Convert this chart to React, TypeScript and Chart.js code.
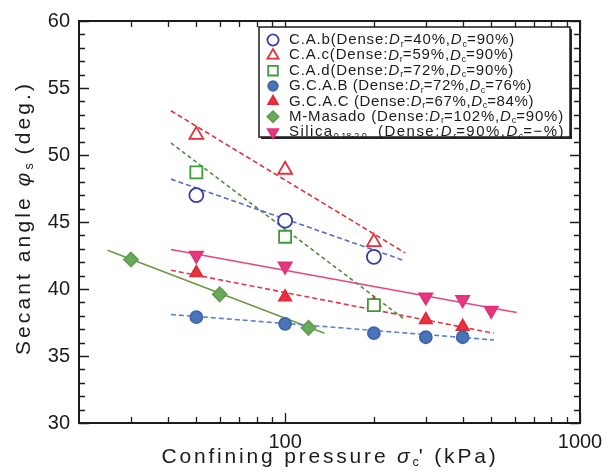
import React, { useEffect, useRef } from "react";
import { Chart, registerables } from "chart.js";
import { drawPoint } from "chart.js/helpers";

Chart.register(...registerables);

// Measured secant angles (deg.) against confining pressure (kPa)
const cabP = [50, 100, 200];
const cabPhi = [47.0, 45.1, 42.4];
const cacP = [50, 100, 200];
const cacPhi = [51.5, 48.9, 43.5];
const cadP = [50, 100, 200];
const cadPhi = [48.7, 43.9, 38.8];
const gcabP = [50, 100, 200, 300, 400];
const gcabPhi = [37.9, 37.4, 36.7, 36.4, 36.4];
const gcacP = [50, 100, 200, 300, 400];
const gcacPhi = [41.2, 39.4, 38.9, 37.7, 37.2];
const masadoP = [30, 60, 120];
const masadoPhi = [42.2, 39.6, 37.1];
const silicaP = [50, 100, 300, 400, 500];
const silicaPhi = [42.5, 41.7, 39.4, 39.2, 38.4];

// Fitted trend lines (end points)
const cabFitP = [41, 255];
const cabFitPhi = [48.2, 42.1];
const cacFitP = [41, 255];
const cacFitPhi = [53.3, 42.7];
const cadFitP = [41, 255];
const cadFitPhi = [50.9, 37.7];
const gcabFitP = [41, 510];
const gcabFitPhi = [38.1, 36.2];
const gcacFitP = [41, 510];
const gcacFitPhi = [41.4, 36.7];
const masadoFitP = [25, 136];
const masadoFitPhi = [42.9, 36.7];
const silicaFitP = [41, 610];
const silicaFitPhi = [42.95, 38.25];

const xTickLabels = [100, 1000];
const yTickLabels = [30, 35, 40, 45, 50, 55, 60];

const FONT = "'Liberation Sans', Arial, Helvetica, sans-serif";
const INK = "#1c1c1c";

type Seg = { t: string; it?: boolean; sub?: boolean };

const legendRows: Seg[][] = [
  [{ t: "C.A.b(Dense:" }, { t: "D", it: true }, { t: "r", sub: true }, { t: "=40%," }, { t: "D", it: true }, { t: "c", sub: true }, { t: "=90%)" }],
  [{ t: "C.A.c(Dense:" }, { t: "D", it: true }, { t: "r", sub: true }, { t: "=59%," }, { t: "D", it: true }, { t: "c", sub: true }, { t: "=90%)" }],
  [{ t: "C.A.d(Dense:" }, { t: "D", it: true }, { t: "r", sub: true }, { t: "=72%," }, { t: "D", it: true }, { t: "c", sub: true }, { t: "=90%)" }],
  [{ t: "G.C.A.B (Dense:" }, { t: "D", it: true }, { t: "r", sub: true }, { t: "=72%," }, { t: "D", it: true }, { t: "c", sub: true }, { t: "=76%)" }],
  [{ t: "G.C.A.C (Dense:" }, { t: "D", it: true }, { t: "r", sub: true }, { t: "=67%," }, { t: "D", it: true }, { t: "c", sub: true }, { t: "=84%)" }],
  [{ t: "M-Masado (Dense:" }, { t: "D", it: true }, { t: "r", sub: true }, { t: "=102%," }, { t: "D", it: true }, { t: "c", sub: true }, { t: "=90%)" }],
  [{ t: "Silica" }, { t: "0.18-2.0", sub: true }, { t: "  (Dense:" }, { t: "D", it: true }, { t: "r", sub: true }, { t: "=90%," }, { t: "D", it: true }, { t: "c", sub: true }, { t: "=\u2212%)" }],
];
const legendRowEnds = [515, 514, 514, 532, 534, 564, 565];

type Series = {
  p: number[];
  phi: number[];
  fitP: number[];
  fitPhi: number[];
  style: string;
  rotation: number;
  radius: number;
  stroke: string;
  fill: string;
  lineColor: string;
  dash: number[];
};

const series: Series[] = [
  { p: cabP, phi: cabPhi, fitP: cabFitP, fitPhi: cabFitPhi, style: "circle", rotation: 0, radius: 7, stroke: "#3a3f9e", fill: "#ffffff", lineColor: "#5a6cc4", dash: [5, 3] },
  { p: cacP, phi: cacPhi, fitP: cacFitP, fitPhi: cacFitPhi, style: "triangle", rotation: 0, radius: 8, stroke: "#e5303c", fill: "#ffffff", lineColor: "#e5303c", dash: [5, 3] },
  { p: cadP, phi: cadPhi, fitP: cadFitP, fitPhi: cadFitPhi, style: "rect", rotation: 0, radius: 8.5, stroke: "#3f9a3c", fill: "#ffffff", lineColor: "#4f8c3e", dash: [4, 3] },
  { p: gcabP, phi: gcabPhi, fitP: gcabFitP, fitPhi: gcabFitPhi, style: "circle", rotation: 0, radius: 6, stroke: "#3f66ad", fill: "#4a73b9", lineColor: "#5b82cc", dash: [5, 3] },
  { p: gcacP, phi: gcacPhi, fitP: gcacFitP, fitPhi: gcacFitPhi, style: "triangle", rotation: 0, radius: 7, stroke: "#e42a36", fill: "#e8323e", lineColor: "#e23848", dash: [5, 3] },
  { p: masadoP, phi: masadoPhi, fitP: masadoFitP, fitPhi: masadoFitPhi, style: "rectRot", rotation: 0, radius: 7, stroke: "#5f9f4f", fill: "#6aab5a", lineColor: "#6b9a42", dash: [] },
  { p: silicaP, phi: silicaPhi, fitP: silicaFitP, fitPhi: silicaFitPhi, style: "triangle", rotation: 180, radius: 7.5, stroke: "#e2307a", fill: "#e6387f", lineColor: "#e8457f", dash: [] },
];

function segFont(s: Seg, size: number) {
  const sz = s.sub ? size * 0.6 : size;
  return `${s.it ? "italic " : ""}${sz}px ${FONT}`;
}

// Draws mixed italic / subscript text, spread to a given width
function drawRich(ctx: CanvasRenderingContext2D, segs: Seg[], x: number, y: number, size: number, width: number | null, align: "left" | "center") {
  ctx.save();
  ctx.letterSpacing = "0px";
  let natural = 0;
  let count = 0;
  const widths = segs.map((s) => {
    ctx.font = segFont(s, size);
    const w = ctx.measureText(s.t).width;
    natural += w;
    if (!s.sub) count += s.t.length;
    return w;
  });
  const spacing = width == null ? 0 : Math.max(0, (width - natural) / count);
  const total = natural + spacing * count;
  let cx = align === "center" ? x - total / 2 : x;
  ctx.textBaseline = "middle";
  ctx.textAlign = "left";
  ctx.fillStyle = INK;
  segs.forEach((s, i) => {
    ctx.font = segFont(s, size);
    const sp = s.sub ? 0 : spacing;
    ctx.letterSpacing = `${sp}px`;
    ctx.fillText(s.t, cx, s.sub ? y + size * 0.28 : y);
    cx += widths[i] + sp * s.t.length;
  });
  ctx.restore();
}

const framePlugin = {
  id: "frameAndNotes",
  afterDraw(chart: any) {
    const ctx: CanvasRenderingContext2D = chart.ctx;
    const { left, right, top, bottom } = chart.chartArea;
    const xs = chart.scales.x;
    const ys = chart.scales.y;
    ctx.save();
    ctx.strokeStyle = INK;

    // inward tick marks on all four sides
    ctx.lineWidth = 1.3;
    ctx.beginPath();
    for (let v = 30; v <= 60; v++) {
      const py = Math.round(ys.getPixelForValue(v)) + 0.5;
      const len = v % 5 === 0 ? 10 : 6;
      ctx.moveTo(left, py);
      ctx.lineTo(left + len, py);
      ctx.moveTo(right, py);
      ctx.lineTo(right - len, py);
    }
    const xVals: number[] = [];
    for (let v = 30; v <= 90; v += 10) xVals.push(v);
    for (let v = 100; v <= 1000; v += 100) xVals.push(v);
    xVals.forEach((v) => {
      const px = Math.round(xs.getPixelForValue(v)) + 0.5;
      const len = v === 100 || v === 1000 ? 10 : 6;
      ctx.moveTo(px, bottom);
      ctx.lineTo(px, bottom - len);
      ctx.moveTo(px, top);
      ctx.lineTo(px, top + len);
    });
    ctx.stroke();

    // plot frame
    ctx.lineWidth = 2;
    ctx.strokeRect(left, top, right - left, bottom - top);

    // axis titles
    drawRich(ctx, [{ t: "Confining pressure " }, { t: "\u03c3", it: true }, { t: "c", sub: true }, { t: "' (kPa)" }], 330, 457, 21, 337, "center");
    ctx.save();
    ctx.translate(24, 218);
    ctx.rotate(-Math.PI / 2);
    drawRich(ctx, [{ t: "Secant angle " }, { t: "\u03c6", it: true }, { t: "s", sub: true }, { t: " (deg.)" }], 0, 0, 21, 274, "center");
    ctx.restore();

    // legend box
    const bx = 259, by = 27, bw = 311, bh = 110;
    ctx.fillStyle = "#ffffff";
    ctx.fillRect(bx, by, bw, bh);
    ctx.fillStyle = "#2a2a2a";
    ctx.fillRect(bx + 2, by + bh, bw, 2);
    ctx.fillRect(bx + bw, by + 2, 2, bh);
    ctx.lineWidth = 1.5;
    ctx.strokeStyle = INK;
    ctx.strokeRect(bx, by, bw, bh);

    legendRows.forEach((row, i) => {
      const ry = 40 + i * 15.35;
      const s = series[i];
      ctx.save();
      ctx.fillStyle = s.fill;
      ctx.strokeStyle = s.stroke;
      ctx.lineWidth = 1.8;
      drawPoint(ctx, { pointStyle: s.style, radius: s.radius * 0.8, rotation: s.rotation, borderWidth: 1.8 } as any, 273, ry);
      ctx.restore();
      drawRich(ctx, row, 289, ry, 15, legendRowEnds[i] - 289, "left");
    });
    ctx.restore();
  },
};

export default function App() {
  const ref = useRef<HTMLCanvasElement>(null);

  useEffect(() => {
    if (!ref.current) return;
    const datasets: any[] = [];
    series.forEach((s) => {
      datasets.push({
        data: s.p.map((p, i) => ({ x: p, y: s.phi[i] })),
        showLine: false,
        pointStyle: s.style,
        pointRotation: s.rotation,
        pointRadius: s.radius,
        pointBorderWidth: 1.8,
        pointBorderColor: s.stroke,
        pointBackgroundColor: s.fill,
        order: 0,
      });
    });
    series.forEach((s) => {
      datasets.push({
        data: s.fitP.map((p, i) => ({ x: p, y: s.fitPhi[i] })),
        showLine: true,
        borderColor: s.lineColor,
        borderWidth: 1.6,
        borderDash: s.dash,
        pointRadius: 0,
        fill: false,
        order: 1,
      });
    });

    const chart = new Chart(ref.current, {
      type: "scatter",
      data: { datasets },
      options: {
        animation: false,
        responsive: true,
        maintainAspectRatio: false,
        layout: { padding: { top: 16, right: 31, left: 0, bottom: 0 } },
        plugins: { legend: { display: false }, tooltip: { enabled: false } },
        scales: {
          x: {
            type: "logarithmic",
            min: 20,
            max: 1000,
            grid: { display: false, drawTicks: false },
            border: { display: false },
            afterFit: (scale: any) => {
              scale.height = 52;
            },
            ticks: {
              autoSkip: false,
              maxRotation: 0,
              padding: 7,
              color: INK,
              font: { family: FONT, size: 20 },
              callback: (v: any) => (xTickLabels.includes(Number(v)) ? String(v) : ""),
            },
          },
          y: {
            min: 30,
            max: 60,
            grid: { display: false, drawTicks: false },
            border: { display: false },
            afterFit: (scale: any) => {
              scale.width = 79;
            },
            afterBuildTicks: (scale: any) => {
              scale.ticks = yTickLabels.map((v) => ({ value: v }));
            },
            ticks: {
              padding: 9,
              color: INK,
              font: { family: FONT, size: 20 },
            },
          },
        },
      },
      plugins: [framePlugin],
    });
    return () => chart.destroy();
  }, []);

  return (
    <div style={{ position: "fixed", left: 0, top: 0, width: 611, height: 475, background: "#fff" }}>
      <canvas ref={ref} />
    </div>
  );
}
